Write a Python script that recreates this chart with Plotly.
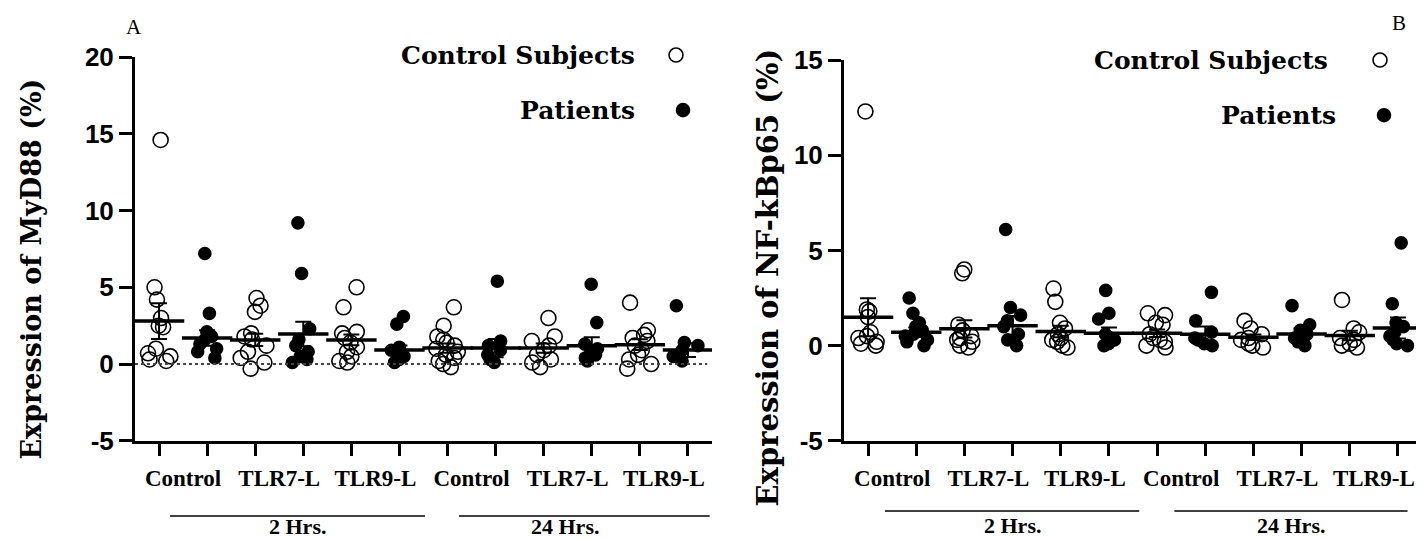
import plotly.graph_objects as go

W, H = 1424, 539

# ---------------- data ----------------
group_labels = ["Control", "TLR7-L", "TLR9-L", "Control", "TLR7-L", "TLR9-L"]
time_labels = ["2 Hrs.", "24 Hrs."]
series_names = ["Control Subjects", "Patients"]
panel_letters = ["A", "B"]
y_titles = ["Expression of MyD88 (%)", "Expression of NF-kBp65 (%)"]

# Panel A : MyD88, one list per condition (2h Control, TLR7-L, TLR9-L, 24h Control, TLR7-L, TLR9-L)
myd88_ctrl = [
    [14.6, 5.0, 4.2, 3.0, 2.5, 2.4, 1.0, 0.7, 0.5, 0.3, 0.2],
    [4.3, 3.8, 3.4, 2.0, 1.8, 1.6, 1.2, 0.8, 0.4, 0.1, -0.3],
    [5.0, 3.7, 2.1, 2.0, 1.7, 1.4, 1.1, 0.8, 0.5, 0.2, 0.1],
    [3.7, 2.5, 1.8, 1.6, 1.4, 1.2, 1.0, 0.8, 0.6, 0.4, 0.2, 0.0, -0.2],
    [3.0, 1.8, 1.5, 1.2, 0.9, 0.6, 0.3, 0.1, -0.2],
    [4.0, 2.2, 1.9, 1.7, 1.5, 1.2, 0.9, 0.6, 0.3, 0.0, -0.3],
]
myd88_pat = [
    [7.2, 3.3, 2.1, 1.8, 1.6, 1.3, 1.0, 0.8, 0.4],
    [9.2, 5.9, 2.3, 1.6, 1.2, 0.8, 0.5, 0.3, 0.1],
    [3.1, 2.6, 1.1, 0.9, 0.8, 0.6, 0.5, 0.3, 0.1],
    [5.4, 1.5, 1.2, 0.9, 0.6, 0.3, 0.1],
    [5.2, 2.7, 1.3, 1.0, 0.8, 0.6, 0.4, 0.2],
    [3.8, 1.4, 1.2, 0.9, 0.5, 0.2],
]
# mean and SEM per column (Control Subjects, Patients alternating)
myd88_mean = [2.8, 1.7, 1.57, 1.96, 1.57, 0.91, 1.04, 1.04, 1.04, 1.2, 1.26, 0.91]
myd88_sem = [1.17, 0.5, 0.4, 0.8, 0.35, 0.3, 0.3, 0.6, 0.3, 0.55, 0.35, 0.45]

# Panel B : NF-kBp65
nfkb_ctrl = [
    [12.3, 1.9, 1.8, 1.5, 0.7, 0.5, 0.4, 0.2, 0.1, 0.0],
    [4.0, 3.8, 1.1, 0.8, 0.5, 0.4, 0.3, 0.2, 0.0, -0.1],
    [3.0, 2.3, 1.2, 0.9, 0.6, 0.4, 0.3, 0.2, 0.0, -0.1],
    [1.7, 1.6, 1.2, 1.1, 0.6, 0.4, 0.3, 0.2, 0.0, -0.1],
    [1.3, 0.9, 0.6, 0.4, 0.3, 0.1, 0.0, -0.1],
    [2.4, 0.9, 0.7, 0.4, 0.3, 0.1, 0.0, -0.1],
]
nfkb_pat = [
    [2.5, 1.7, 1.2, 1.0, 0.8, 0.6, 0.5, 0.3, 0.2, 0.0],
    [6.1, 2.0, 1.6, 1.3, 1.0, 0.6, 0.3, 0.0],
    [2.9, 1.7, 1.4, 0.6, 0.4, 0.3, 0.1, 0.0],
    [2.8, 1.3, 0.7, 0.4, 0.3, 0.1, 0.0],
    [2.1, 1.1, 0.8, 0.6, 0.4, 0.2, 0.0],
    [5.4, 2.2, 1.2, 1.0, 0.7, 0.5, 0.3, 0.1, 0.0],
]
nfkb_mean = [1.49, 0.7, 0.88, 1.05, 0.74, 0.65, 0.65, 0.6, 0.44, 0.61, 0.53, 0.93]
nfkb_sem = [1.0, 0.25, 0.45, 0.5, 0.3, 0.3, 0.2, 0.4, 0.15, 0.3, 0.25, 0.55]

y_ticks_a = [-5, 0, 5, 10, 15, 20]
y_ticks_b = [-5, 0, 5, 10, 15]

# ---------------- figure ----------------
fig = go.Figure()

# map target picture pixels to paper coordinates (compensates page offset/scaling)
def px_x(p):
    return (p - 8) / W

def px_y(p):
    f = (p - 23.0) / 0.9425
    return min(1.0, max(0.0, 1 - f / H))

panels = [
    dict(ctrl=myd88_ctrl, pat=myd88_pat, mean=myd88_mean, sem=myd88_sem, xa="x", ya="y"),
    dict(ctrl=nfkb_ctrl, pat=nfkb_pat, mean=nfkb_mean, sem=nfkb_sem, xa="x2", ya="y2"),
]

for p in panels:
    for s, (vals, sym, size) in enumerate([(p["ctrl"], "circle-open", 15), (p["pat"], "circle", 12)]):
        xs, ys = [], []
        for g, grp in enumerate(vals):
            col = 2 * g + 1 + s
            xs += [col] * len(grp)
            ys += grp
        fig.add_trace(go.Box(
            x=xs, y=ys, xaxis=p["xa"], yaxis=p["ya"],
            name=series_names[s], boxpoints="all", jitter=1.0, pointpos=0,
            width=0.62, line=dict(width=0, color="rgba(0,0,0,0)"),
            fillcolor="rgba(0,0,0,0)", whiskerwidth=0,
            marker=dict(symbol=sym, size=size, color="black", line=dict(width=1.6, color="black")),
            showlegend=False, hoverinfo="y",
        ))
    fig.add_trace(go.Scatter(
        x=list(range(1, 13)), y=p["mean"], xaxis=p["xa"], yaxis=p["ya"],
        mode="markers",
        marker=dict(symbol="line-ew", size=36, line=dict(width=3.5, color="black")),
        error_y=dict(type="data", array=p["sem"], visible=True, thickness=2, width=8, color="black"),
        showlegend=False, hoverinfo="y",
    ))

tickfont_y = dict(family="Liberation Sans", size=26, color="black", weight="bold")
tickfont_x = dict(family="Liberation Serif", size=23, color="black", weight="bold")

def xaxis_cfg(dom):
    return dict(
        domain=dom, range=[0.5, 12.5], showline=True, linewidth=3, linecolor="black",
        tickmode="array", tickvals=[1.5, 3.5, 5.5, 7.5, 9.5, 11.5], ticktext=group_labels,
        ticks="outside", ticklen=15, tickcolor="rgba(0,0,0,0)", tickfont=tickfont_x,
        minor=dict(tickmode="array", tickvals=list(range(1, 13)), ticks="outside",
                   ticklen=12, tickwidth=2.5, tickcolor="black"),
        showgrid=False, zeroline=False, fixedrange=True,
    )

def yaxis_cfg(dom, rng, tv):
    return dict(
        domain=dom, range=rng, showline=True, linewidth=3, linecolor="black",
        tickmode="array", tickvals=tv, ticktext=[str(v) for v in tv],
        ticks="outside", ticklen=13, tickwidth=2.5, tickcolor="black", tickfont=tickfont_y,
        showgrid=False, zeroline=False, fixedrange=True,
    )

fig.update_layout(
    width=W, height=H, margin=dict(l=0, r=0, t=0, b=0),
    paper_bgcolor="white", plot_bgcolor="white",
    xaxis=dict(xaxis_cfg([px_x(135), px_x(712)]), anchor="y"),
    yaxis=dict(yaxis_cfg([px_y(440), px_y(57)], [-5, 20], y_ticks_a), anchor="x"),
    xaxis2=dict(xaxis_cfg([px_x(844), min(1.0, px_x(1422))]), anchor="y2"),
    yaxis2=dict(yaxis_cfg([px_y(440), px_y(60)], [-5, 15], y_ticks_b), anchor="x2"),
)

shapes = []
# dotted zero line in panel A
shapes.append(dict(type="line", xref="x", yref="y", x0=0.5, x1=12.4, y0=0, y1=0,
                   line=dict(color="#444", width=2, dash="dot")))
# time group lines
for xr, ypx, segs in [("x", 515, [(1.23, 6.53), (7.24, 12.45)]),
                      ("x2", 510, [(1.35, 6.63), (7.36, 12.2)])]:
    for a, b in segs:
        shapes.append(dict(type="line", xref=xr, yref="paper", x0=a, x1=b,
                           y0=px_y(ypx), y1=px_y(ypx), line=dict(color="black", width=1.5)))
# legend symbols
for (cx, cy, filled) in [(676, 55, False), (683, 110, True), (1380, 60, False), (1384, 115, True)]:
    r = 6.5 if filled else 7
    shapes.append(dict(type="circle", xref="paper", yref="paper",
                       xsizemode="pixel", ysizemode="pixel",
                       xanchor=px_x(cx), yanchor=px_y(cy), x0=-r, x1=r, y0=-r, y1=r,
                       line=dict(color="black", width=1.6),
                       fillcolor="black" if filled else "white"))
fig.update_layout(shapes=shapes)

ann = []
serif_b = dict(family="DejaVu Serif", color="black", weight="bold")

def add_text(text, x, y, font, xref="paper", xanchor="center", angle=0):
    ann.append(dict(text=text, xref=xref, yref="paper", x=x, y=y, textangle=angle,
                    xanchor=xanchor, yanchor="middle", showarrow=False, font=font))

# y titles
add_text(y_titles[0], px_x(31), px_y(269), dict(serif_b, size=27), angle=-90)
add_text(y_titles[1], px_x(768), px_y(277), dict(serif_b, size=29), angle=-90)
# legend texts
for (rx, cy, t) in [(637, 55, series_names[0]), (637, 110, series_names[1]),
                    (1330, 60, series_names[0]), (1338, 115, series_names[1])]:
    add_text(t, px_x(rx), px_y(cy), dict(serif_b, size=25), xanchor="right")
# panel letters
add_text(panel_letters[0], px_x(134), px_y(27), dict(family="Liberation Serif", size=21, color="black"))
add_text(panel_letters[1], px_x(1399), px_y(12), dict(family="Liberation Serif", size=21, color="black"))
# time labels
for xr, ypx, xs in [("x", 526, [3.87, 9.45]), ("x2", 525, [4.0, 9.77])]:
    for t, xv in zip(time_labels, xs):
        add_text(t, xv, px_y(ypx),
                 dict(family="Liberation Serif", size=22, color="black", weight="bold"), xref=xr)
fig.update_layout(annotations=ann)

fig.write_html("out.html")
